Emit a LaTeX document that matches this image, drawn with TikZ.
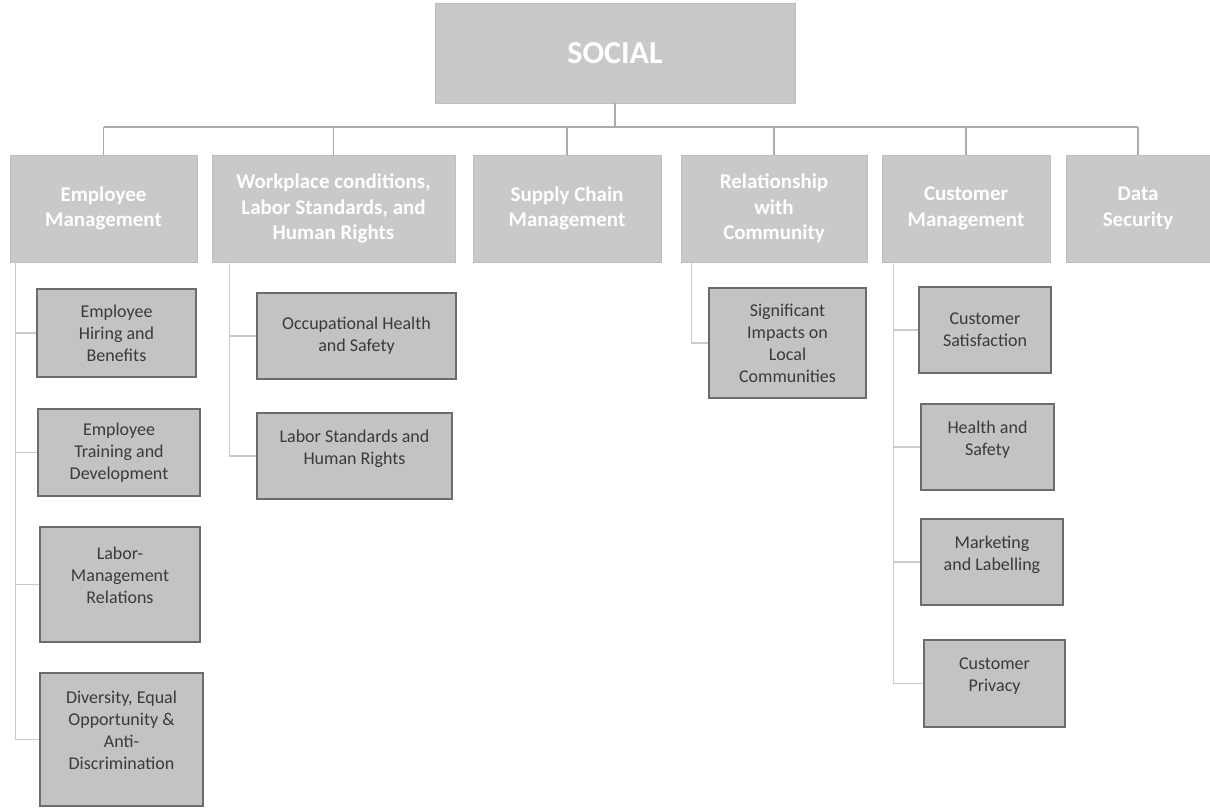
\documentclass[tikz,border=0pt]{standalone}
\usepackage{fontspec}
\setmainfont{Carlito}
\definecolor{grisclair}{HTML}{C9C9C9}
\definecolor{grisbord}{HTML}{BEBEBE}
\definecolor{grisboite}{HTML}{C3C3C3}
\definecolor{grisfonce}{HTML}{6C6C6C}
\definecolor{gristexte}{HTML}{3A3A3A}
\definecolor{gristrait}{HTML}{ABABAB}
\definecolor{grisfin}{HTML}{CBCBCB}
\newcommand{\vide}{\\[-4pt]\mbox{}}
\begin{document}
\begin{tikzpicture}[x=1pt,y=-1pt,
    titre/.style={fill=grisclair, draw=grisbord, text=white, inner sep=0pt,
      minimum width=360pt, minimum height=100pt,
      font=\fontsize{32}{38}\selectfont\bfseries},
    categorie/.style={fill=grisclair, draw=grisbord, text=white, inner sep=0pt,
      minimum height=107pt, align=center,
      font=\fontsize{21}{25.5}\selectfont\bfseries},
    sujet/.style={fill=grisboite, draw=grisfonce, line width=1.2pt, text=gristexte,
      inner sep=0pt, align=center, font=\fontsize{18}{22}\selectfont},
    tronc/.style={draw=gristrait, line width=1.5pt},
    trait/.style={draw=grisfin, line width=1.2pt}]
  \useasboundingbox (0,0) rectangle (1210,807);
  %titre
  \node[titre] (social) at (615,53) {SOCIAL};
  \coordinate (bus) at (615,127);
  %categories
  \node[categorie, minimum width=187pt] (emp) at (103.5,208.5) {Employee\\Management};
  \node[categorie, minimum width=243pt] (work) at (333.5,208.5) {Workplace conditions,\\Labor Standards, and\\Human Rights};
  \node[categorie, minimum width=188pt] (supply) at (567,208.5) {Supply Chain\\Management};
  \node[categorie, minimum width=186pt] (rel) at (774,208.5) {Relationship\\with\\Community};
  \node[categorie, minimum width=168pt] (cust) at (966,208.5) {Customer\\Management};
  \node[categorie, minimum width=144pt] (data) at (1138,208.5) {Data\\Security};
  %sujets employee
  \node[sujet, minimum width=159pt, minimum height=88pt] (hiring) at (116.5,333) {Employee\\Hiring and\\Benefits};
  \node[sujet, minimum width=162pt, minimum height=87pt] (training) at (119,452.5) {Employee\\Training and\\Development};
  \node[sujet, minimum width=160pt, minimum height=115pt] (labmgmt) at (120,584.5) {Labor-\\Management\\Relations\vide};
  \node[sujet, minimum width=163pt, minimum height=133pt] (diversity) at (121.5,739.5) {Diversity, Equal\\Opportunity \&\\Anti-\\Discrimination\vide};
  %sujets workplace
  \node[sujet, minimum width=199pt, minimum height=86pt] (occup) at (356.5,336) {Occupational Health\\and Safety};
  \node[sujet, minimum width=195pt, minimum height=86pt] (labstd) at (354.5,456) {Labor Standards and\\Human Rights\vide};
  %sujets community
  \node[sujet, minimum width=157pt, minimum height=110pt] (impacts) at (787.5,343) {Significant\\Impacts on\\Local\\Communities};
  %sujets customer
  \node[sujet, minimum width=132pt, minimum height=86pt] (satisf) at (985,330) {Customer\\Satisfaction};
  \node[sujet, minimum width=133pt, minimum height=86pt] (health) at (987.5,447) {Health and\\Safety\vide};
  \node[sujet, minimum width=142pt, minimum height=86pt] (market) at (992,562) {Marketing\\and Labelling\vide};
  \node[sujet, minimum width=141pt, minimum height=87pt] (privacy) at (994.5,683.5) {Customer\\Privacy\vide};
  %tronc principal
  \draw[tronc] (social.south) -- (bus);
  \draw[tronc] (emp.north |- bus) -- (data.north |- bus);
  \draw[tronc] (emp.north) -- (emp.north |- bus);
  \draw[tronc] (work.north) -- (work.north |- bus);
  \draw[tronc] (supply.north) -- (supply.north |- bus);
  \draw[tronc] (rel.north) -- (rel.north |- bus);
  \draw[tronc] (cust.north) -- (cust.north |- bus);
  \draw[tronc] (data.north) -- (data.north |- bus);
  %branches employee
  \draw[trait] ([xshift=6pt]emp.south west) |- (hiring.west);
  \draw[trait] ([xshift=6pt]emp.south west) |- (training.west);
  \draw[trait] ([xshift=6pt]emp.south west) |- (labmgmt.west);
  \draw[trait] ([xshift=6pt]emp.south west) |- (diversity.west);
  %branches workplace
  \draw[trait] ([xshift=18pt]work.south west) |- (occup.west);
  \draw[trait] ([xshift=18pt]work.south west) |- (labstd.west);
  %branche community
  \draw[trait] ([xshift=11pt]rel.south west) |- (impacts.west);
  %branches customer
  \draw[trait] ([xshift=12pt]cust.south west) |- (satisf.west);
  \draw[trait] ([xshift=12pt]cust.south west) |- (health.west);
  \draw[trait] ([xshift=12pt]cust.south west) |- (market.west);
  \draw[trait] ([xshift=12pt]cust.south west) |- (privacy.west);
\end{tikzpicture}
\end{document}
